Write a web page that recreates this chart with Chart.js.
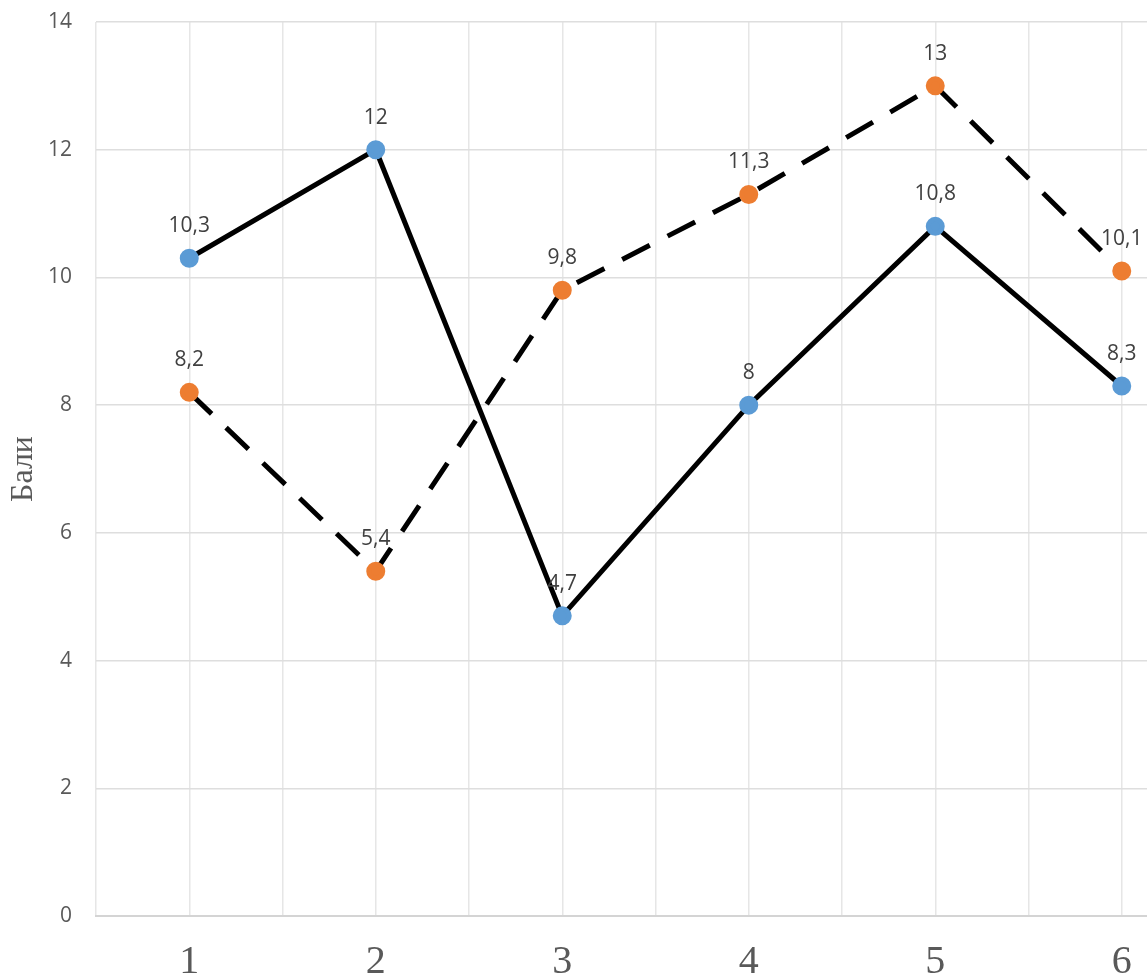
<!DOCTYPE html>
<html>
<head>
<meta charset="utf-8">
<script src="https://cdn.jsdelivr.net/npm/chart.js@4"></script>
<style>
  html, body { margin: 0; padding: 0; background: #fff; overflow: hidden; }
  canvas { display: block; }
</style>
</head>
<body>
<canvas id="lineChart" width="1227" height="974"></canvas>
<script>
const categories = [1, 2, 3, 4, 5, 6];
const seriesA = [10.3, 12, 4.7, 8, 10.8, 8.3];
const seriesB = [8.2, 5.4, 9.8, 11.3, 13, 10.1];
const yTicks = [0, 2, 4, 6, 8, 10, 12, 14];

const ctx = document.getElementById("lineChart");

// labels above each point, written with a comma
const pointLabels = {
  id: "pointLabels",
  afterDatasetsDraw(chart) {
    const c = chart.ctx;
    c.save();
    c.font = "21px 'Open Sans'";
    c.fillStyle = "#404040";
    c.textAlign = "center";
    c.textBaseline = "middle";
    chart.data.datasets.forEach((ds, i) => {
      chart.getDatasetMeta(i).data.forEach((pt, j) => {
        const txt = String(ds.data[j].y).replace(".", ",");
        c.fillText(txt, pt.x, pt.y - 32);
      });
    });
    c.restore();
  },
};

const toPoints = (vals) => vals.map((v, i) => ({ x: categories[i], y: v }));

new Chart(ctx, {
  type: "line",
  data: {
    datasets: [
      {
        label: "series1",
        data: toPoints(seriesA),
        borderColor: "#000",
        borderWidth: 5,
        pointBackgroundColor: "#5B9BD5",
        pointBorderColor: "#5B9BD5",
        pointRadius: 7,
        tension: 0,
      },
      {
        label: "series2",
        data: toPoints(seriesB),
        borderColor: "#000",
        borderWidth: 5,
        borderDash: [31, 20],
        pointBackgroundColor: "#ED7D31",
        pointBorderColor: "#ED7D31",
        pointRadius: 7,
        tension: 0,
      },
    ],
  },
  options: {
    responsive: false,
    devicePixelRatio: 1,
    animation: false,
    layout: { padding: { top: 22, right: 0, left: 0, bottom: 0 } },
    plugins: {
      legend: { display: false },
      tooltip: { enabled: false },
    },
    scales: {
      x: {
        type: "linear",
        min: 0.5,
        max: 6.5,
        ticks: {
          stepSize: 0.5,
          autoSkip: false,
          maxRotation: 0,
          padding: 22,
          color: "#595959",
          font: { family: "'Liberation Serif'", size: 40 },
          callback: (v) => (categories.includes(v) ? String(v) : ""),
        },
        grid: { color: "#E6E6E6", lineWidth: 1.5, drawTicks: false },
        border: { color: "#D4D4D4", width: 2 },
        afterFit: (s) => {
          s.height = 58;
          s.paddingLeft = 0;
          s.paddingRight = 0;
        },
      },
      y: {
        min: 0,
        max: 14,
        afterBuildTicks: (s) => { s.ticks = yTicks.map((v) => ({ value: v })); },
        ticks: {
          padding: 24,
          color: "#595959",
          font: { family: "'Open Sans'", size: 21 },
        },
        grid: { color: "#DEDEDE", lineWidth: 1.5, drawTicks: false },
        border: { display: false },
        title: {
          display: true,
          text: "Бали",
          color: "#595959",
          font: { family: "'Liberation Serif'", size: 32 },
          padding: { top: 4, bottom: 0 },
        },
        afterFit: (s) => {
          s.width = 96;
          s.paddingTop = 0;
          s.paddingBottom = 0;
        },
      },
    },
  },
  plugins: [pointLabels],
});
</script>
</body>
</html>
